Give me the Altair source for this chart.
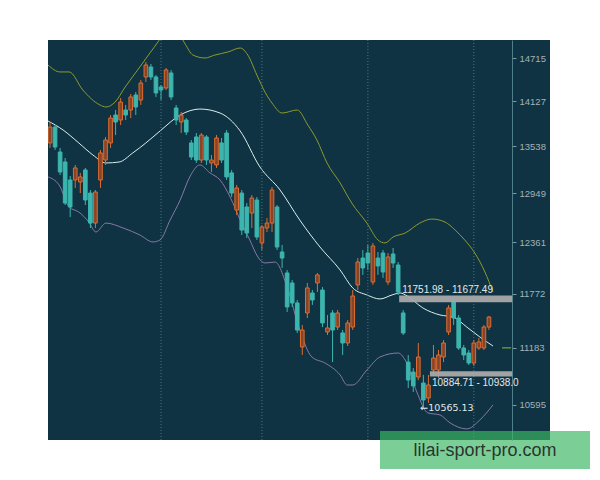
import altair as alt
import pandas as pd

# ---------------- data ----------------
opens = [13578, 13784, 13462, 13335, 13110, 13110, 13085, 13235, 12949, 12586,
         13110, 13360, 13578, 13942, 13876, 14008, 14008, 14208, 14141, 14453,
         14590, 14453, 14317, 14303, 14508, 14035, 13850, 13876, 13578, 13655,
         13360, 13655, 13323, 13298, 13578, 13706, 13198, 12742, 12949, 12779,
         12706, 12864, 12351, 12527, 12586, 12779, 12246, 12005, 11892, 11669,
         11193, 11559, 11780, 11892, 11813, 11353, 11559, 11406, 11342, 11235,
         11406, 11870, 12176, 12234, 11903, 12176, 12234, 11903, 12223, 12096,
         11559, 11034, 10930, 10879, 10817, 10665, 10951, 10951, 11087, 11353,
         11680, 11504, 11182, 11129, 11024, 11182, 11182, 11406]
highs = [13850, 13810, 13514, 13386, 13160, 13298, 13198, 13260, 12986, 12986,
         13488, 13655, 13942, 14008, 14168, 14075, 14222, 14249, 14412, 14659,
         14632, 14480, 14344, 14577, 14549, 14075, 13982, 13902, 13616, 13706,
         13706, 13680, 13424, 13680, 13642, 13745, 13235, 13048, 12986, 12827,
         12925, 12900, 12563, 12646, 13023, 12803, 12328, 12039, 11926, 11702,
         11428, 11892, 11813, 12005, 11847, 11537, 11592, 11592, 11374, 11482,
         11813, 12176, 12269, 12328, 12351, 12246, 12269, 12234, 12293, 12130,
         11592, 11108, 10972, 11235, 10900, 10900, 11214, 11161, 11267, 11647,
         11713, 11537, 11214, 11161, 11267, 11288, 11428, 11526]
lows = [13514, 13488, 13172, 12803, 12658, 13011, 12949, 12803, 12527, 12527,
        13011, 13298, 13514, 13680, 13810, 13876, 13902, 13942, 14075, 14385,
        14412, 14182, 14141, 14276, 14141, 13810, 13706, 13680, 13360, 13323,
        13323, 13298, 13210, 13260, 13323, 13110, 12900, 12682, 12445, 12409,
        12527, 12386, 12269, 12480, 12480, 12269, 12062, 11570, 11625, 11342,
        11108, 11504, 11647, 11791, 11406, 11320, 11034, 11374, 11108, 11203,
        11374, 11813, 11983, 12039, 11870, 11983, 11949, 11870, 12062, 11758,
        11320, 10766, 10726, 10848, 10565.13, 10615, 10900, 10869, 11034, 11320,
        11428, 11161, 11055, 11003, 10993, 11161, 11161, 11374]
closes = [13784, 13526, 13210, 12827, 12779, 13260, 13148, 12864, 12586, 12962,
          13450, 13616, 13902, 13850, 14114, 13942, 14182, 14048, 14371, 14618,
          14453, 14236, 14276, 14549, 14182, 13876, 13942, 13719, 13398, 13360,
          13680, 13360, 13360, 13642, 13360, 13148, 12949, 13011, 12503, 12468,
          12888, 12421, 12539, 12586, 12986, 12304, 12176, 11625, 11669, 11374,
          11374, 11836, 11702, 11983, 11450, 11396, 11374, 11559, 11235, 11450,
          11746, 12130, 12062, 12119, 12316, 12085, 12016, 12188, 12119, 11791,
          11342, 10848, 10787, 11087, 10645, 10797, 11076, 11108, 11235, 11614,
          11504, 11182, 11108, 11024, 11235, 11246, 11406, 11515]
days = list(range(len(opens)))

upper_days = [-0.4, 2, 3.8, 6.5, 9.9, 11.1, 12.9, 14.9, 17.8, 19.8, 21.4, 22.2, 24.2, 25.8,
              26.8, 28.3, 30.7, 32.7, 35.3, 37.7, 39.2, 41.0, 42.6, 44, 46, 49, 51.1, 52.9,
              54.9, 57.5, 59.8, 62.8, 65, 66.4, 68, 70.4, 73.3, 75.7, 78.3, 80.3, 82.2,
              84.2, 86.2, 87.8]
upper_vals = [14618, 14522, 14522, 14276, 14075, 14048, 14114, 14317, 14590, 14785, 14940,
              15025, 15110, 15025, 14910, 14757, 14715, 14757, 14800, 14855, 14757, 14480,
              14249, 14101, 13968, 14008, 13810, 13616, 13323, 13073, 12827, 12586, 12386,
              12351, 12421, 12468, 12586, 12634, 12598, 12503, 12386, 12234, 12016, 11791]
middle_days = [-0.4, 2.6, 5.7, 8.5, 11.1, 13.7, 16.4, 19.0, 21.8, 25.8, 29.7, 33.7, 37.7,
               41.6, 45.6, 49.5, 53.5, 57.5, 60, 62.8, 65.4, 67.8, 69.4, 70.8, 73.9, 77.3,
               79.9, 82.6, 85.2, 87.8]
middle_vals = [13863, 13745, 13578, 13424, 13323, 13335, 13450, 13578, 13732, 13942, 14021,
               13968, 13732, 13273, 12986, 12622, 12304, 12039, 11836, 11758, 11713, 11758,
               11780, 11746, 11614, 11537, 11515, 11406, 11299, 11203]
lower_days = [-0.4, 1.8, 3.8, 5.7, 7.7, 9.1, 11.1, 14.5, 17.8, 20.4, 21.8, 23.8, 25.8, 27.7,
              29.7, 31.7, 33.7, 35.7, 37.7, 39.6, 41.2, 42.6, 44.6, 47, 49.5, 51.9, 54.5,
              57.5, 58.9, 60, 62.8, 65.4, 69, 70.4, 72.7, 74.9, 77.3, 79.3, 82.6, 85.2, 87.8]
lower_vals = [13148, 13048, 12779, 12718, 12598, 12480, 12586, 12527, 12445, 12363, 12386,
              12622, 12864, 13148, 13298, 13198, 13110, 12900, 12622, 12386, 12188, 12119,
              12130, 11847, 11374, 11087, 11024, 10900, 10797, 10797, 10951, 11087, 11129,
              11055, 10726, 10515, 10495, 10416, 10357, 10445, 10595]

grid_days = [22, 42, 63, 84]
tick_values = [10595, 11183, 11772, 12361, 12949, 13538, 14127, 14715]

zone_start = [69.2, 75.3]
zone_end = [91.6, 91.6]
zone_lo = [11677.49, 10884.71]
zone_hi = [11751.98, 10938.04]
zone_text = ["11751.98 - 11677.49", "10884.71 - 10938.0"]
zone_text_day = [69.8, 75.7]
zone_text_price = [11813, 10817]

low_text = ["←10565.13"]
low_text_day = [73.4]
low_text_price = [10565.13]

last_mark_price = [11183]

# ---------------- styles ----------------
BG = "#0f3342"
ORANGE = "#df6d30"
ORANGE_FILL = "#864429"
TEAL = "#3cb5ae"
FONT = "Liberation Sans"

df = pd.DataFrame({"day": days, "open": opens, "high": highs, "low": lows, "close": closes})
bands = pd.concat([
    pd.DataFrame({"band": "upper", "day": upper_days, "value": upper_vals}),
    pd.DataFrame({"band": "middle", "day": middle_days, "value": middle_vals}),
    pd.DataFrame({"band": "lower", "day": lower_days, "value": lower_vals}),
])
grid_df = pd.DataFrame({"day": grid_days})
zones = pd.DataFrame({"s": zone_start, "e": zone_end, "lo": zone_lo, "hi": zone_hi,
                      "t": zone_text, "td": zone_text_day, "tp": zone_text_price})
lowlab = pd.DataFrame({"t": low_text, "d": low_text_day, "p": low_text_price})
marker = pd.DataFrame({"p": last_mark_price, "d0": [89.6], "d1": [91.4]})

xs = alt.Scale(domain=[-0.4, 99.1], nice=False, zero=False)
ys = alt.Scale(type="log", domain=[10249, 14968], nice=False, zero=False)
YAX = alt.Axis(orient="right", offset=-38, values=tick_values, format="d",
               labelColor="#a4b2b8", labelFont=FONT, labelFontSize=9.5,
               tickColor="#7d9aa3", tickSize=4, domainColor="#4f7f8b",
               labelPadding=3, grid=False, title=None)


def Y(field):
    return alt.Y(field, scale=ys, axis=YAX, title=None)


def X(field):
    return alt.X(field, scale=xs, axis=None)


up_cond = "datum.close >= datum.open"

grid = alt.Chart(grid_df).mark_rule(strokeDash=[1, 2], color="#4b7885", strokeWidth=1).encode(
    x=X("day:Q")
)

band_lines = alt.Chart(bands).mark_line(strokeWidth=1, clip=True, interpolate="monotone").encode(
    x=X("day:Q"),
    y=Y("value:Q"),
    color=alt.Color("band:N", legend=None,
                    scale=alt.Scale(domain=["upper", "middle", "lower"],
                                    range=["#8c9b2e", "#d9eef0", "#8877a8"])),
    detail="band:N",
)

wicks = alt.Chart(df).mark_rule(strokeWidth=1, clip=True).encode(
    x=X("day:Q"),
    y=Y("low:Q"),
    y2="high:Q",
    color=alt.condition(up_cond, alt.value(ORANGE), alt.value(TEAL)),
)

bodies = alt.Chart(df).transform_calculate(
    x0="datum.day - 0.36", x1="datum.day + 0.36"
).mark_rect(strokeWidth=1, clip=True).encode(
    x=X("x0:Q"),
    x2="x1:Q",
    y=Y("open:Q"),
    y2="close:Q",
    fill=alt.condition(up_cond, alt.value(ORANGE_FILL), alt.value(TEAL)),
    stroke=alt.condition(up_cond, alt.value(ORANGE), alt.value(TEAL)),
)

zone_rects = alt.Chart(zones).mark_rect(color="#a9a9a9", opacity=0.95, clip=True).encode(
    x=X("s:Q"), x2="e:Q",
    y=Y("lo:Q"), y2="hi:Q",
)
zone_labels = alt.Chart(zones).mark_text(align="left", baseline="middle", font=FONT,
                                         fontSize=10, color="#e2e8ea").encode(
    x=X("td:Q"),
    y=Y("tp:Q"),
    text="t:N",
)
low_label = alt.Chart(lowlab).mark_text(align="left", baseline="middle", font="DejaVu Sans",
                                        fontSize=9.5, color="#e2e8ea").encode(
    x=X("d:Q"),
    y=Y("p:Q"),
    text="t:N",
)
mark_rule = alt.Chart(marker).mark_rule(color="#8fbf3a", strokeWidth=1).encode(
    x=X("d0:Q"), x2="d1:Q",
    y=Y("p:Q"),
)

wm_df = pd.DataFrame({"t": ["lilai-sport-pro.com"]})
wm_box = alt.Chart(wm_df).mark_rect(color="#3cb864", opacity=0.68).encode(
    x=alt.value(332), x2=alt.value(542), y=alt.value(391), y2=alt.value(429)
)
wm_text = alt.Chart(wm_df).mark_text(font=FONT, fontSize=18, color="#2a3530",
                                     align="center", baseline="middle").encode(
    x=alt.value(437), y=alt.value(411), text="t:N"
)

chart = alt.layer(
    band_lines, grid, wicks, bodies, zone_rects, zone_labels, low_label, mark_rule,
    wm_box, wm_text
).properties(
    width=502, height=400,
    padding={"left": 40, "top": 32, "right": 42, "bottom": 30},
    autosize=alt.AutoSizeParams(type="none"),
).configure_view(fill=BG, stroke=None)

chart.save("out.html", embed_options={"renderer": "svg", "actions": False})
